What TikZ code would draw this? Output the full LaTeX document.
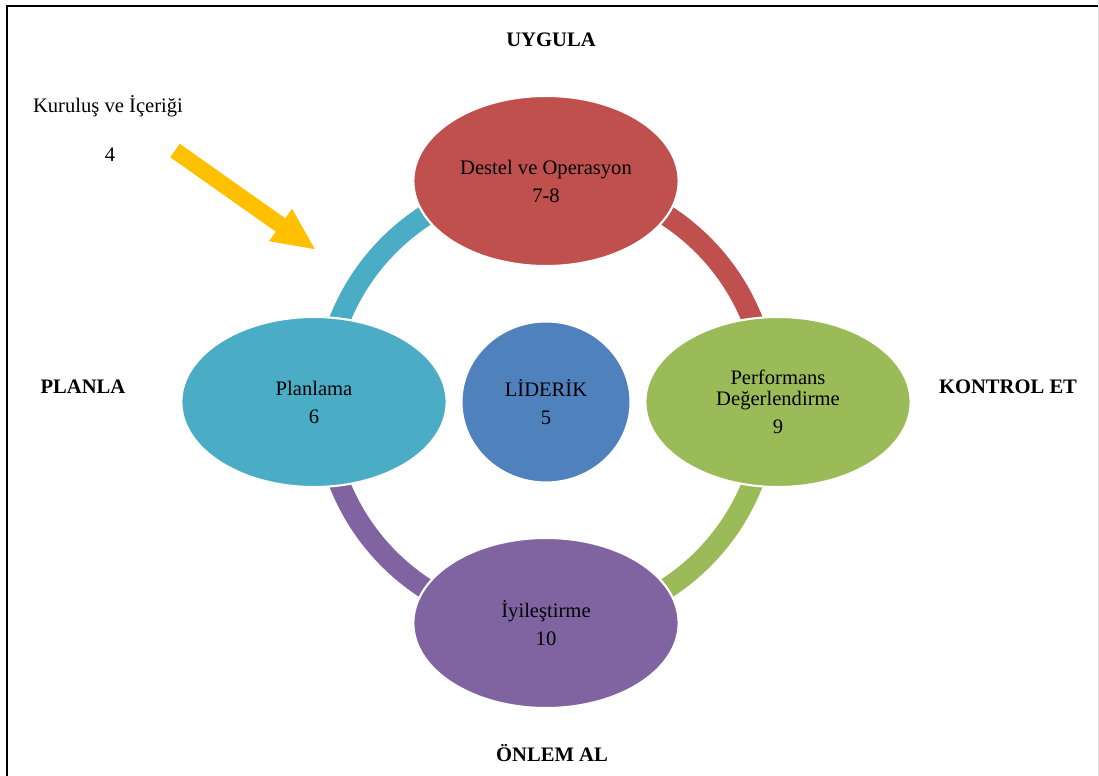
\documentclass[tikz,border=0pt]{standalone}
\usepackage{fontspec}
\setmainfont{Liberation Serif}
\usetikzlibrary{shapes.geometric}
\usetikzlibrary{arrows.meta}
\usetikzlibrary{math}
\definecolor{redC}{HTML}{C0504D}
\definecolor{cyanC}{HTML}{4BACC6}
\definecolor{greenC}{HTML}{9BBB59}
\definecolor{purpleC}{HTML}{8064A2}
\definecolor{blueC}{HTML}{4F81BD}
\definecolor{goldC}{HTML}{FFC000}
\tikzset{blob/.style={ellipse, draw=white, line width=1.5pt, inner sep=0pt, align=center, minimum width=6.63cm, minimum height=4.25cm, font=\fontsize{14.65}{14.94}\selectfont},
ring/.style={line width=0.525cm},
phase/.style={anchor=base, font=\fontsize{14.65}{14.94}\selectfont\bfseries},
plain/.style={anchor=base, font=\fontsize{14.65}{14.94}\selectfont}}

\begin{document}
\begin{tikzpicture}[x=0.025cm,y=0.025cm]
	\tikzmath{\cx=546; \cy=374; \rr=222; \dx=232; \dy=221;}
	\useasboundingbox (0,0) rectangle (1099,776);
	\coordinate (c) at (\cx,\cy);
	\draw[ring, cyanC] (c) ++(180:\rr) arc[start angle=180, end angle=90, radius=\rr];
	\draw[ring, redC] (c) ++(90:\rr) arc[start angle=90, end angle=0, radius=\rr];
	\draw[ring, greenC] (c) ++(0:\rr) arc[start angle=0, end angle=-90, radius=\rr];
	\draw[ring, purpleC] (c) ++(-90:\rr) arc[start angle=-90, end angle=-180, radius=\rr];

	\node[blob, fill=redC] (destel) at (\cx,\cy+\dy) {Destel ve Operasyon\\[5pt]7-8};
	\node[blob, fill=cyanC] (planlama) at (\cx-\dx,\cy) {Planlama\\[5pt]6};
	\node[blob, fill=greenC] (performans) at (\cx+\dx,\cy) {Performans\\Değerlendirme\\[5pt]9};
	\node[blob, fill=purpleC] (iyilestirme) at (\cx,\cy-\dy) {İyileştirme\\[5pt]10};
	\node[blob, fill=blueC, minimum width=4.225cm, minimum height=4.025cm] (liderik) at (c) {LİDERİK\\[5pt]5};

	\node[phase] (uygula) at (551,729) {UYGULA};
	\node[phase] (kontrol) at (1008,382) {KONTROL ET};
	\node[phase] (planla) at (83,382) {PLANLA};
	\node[phase] (onlem) at (552,14) {ÖNLEM AL};
	\node[plain] (kurulus) at (108,663) {Kuruluş ve İçeriği};
	\node[plain] (dort) at (110,614) {4};

	\coordinate (okbas) at (175,625.5);
	\coordinate (okuc) at (316,526);
	\draw[-{Triangle[length=1.085cm,width=0.905cm]}, line width=0.41cm, goldC] (okbas) -- (okuc);

	\draw[line width=1.4pt] (1099,770) -- (7,770) -- (7,0);
	\draw[black!12, line width=0.7pt] (1098.5,776) -- (1098.5,0);
\end{tikzpicture}
\end{document}
